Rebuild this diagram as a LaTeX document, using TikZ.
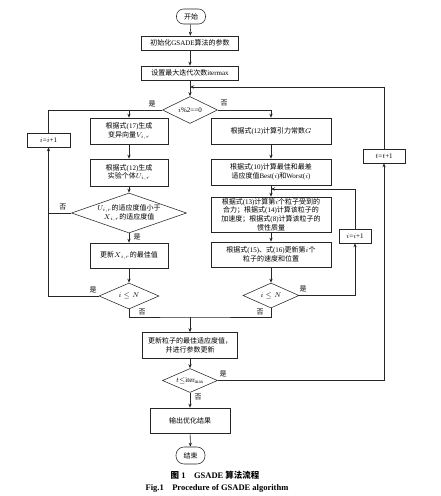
\documentclass[tikz,border=0pt]{standalone}
\usepackage{fontspec}
\setmainfont{Liberation Serif}
\newfontfamily\cjk{Noto Sans CJK SC}
\usetikzlibrary{shapes.geometric,arrows.meta}
\newcommand\en[1]{{\rmfamily #1}}
\tikzset{
 base/.style={draw=black!85, line width=0.55pt, inner sep=1pt, font=\cjk\fontsize{7}{8.6}\selectfont, align=center},
 box/.style={base, rectangle},
 pill/.style={base, rounded corners=7pt},
 dia/.style={draw=black!85, line width=0.55pt, diamond, inner sep=0pt},
 dtext/.style={font=\cjk\fontsize{7}{8.6}\selectfont, align=center, inner sep=0pt},
 arr/.style={line width=0.55pt, draw=black!85, -{Stealth[length=4pt,width=3.2pt]}},
 ln/.style={line width=0.55pt, draw=black!85},
 lab/.style={font=\cjk\fontsize{7}{8}\selectfont, inner sep=0pt},
}
\begin{document}
\begin{tikzpicture}[x=1pt,y=-1pt]
\useasboundingbox[fill=white] (0,0) rectangle (440,496);
% main column
\node[pill, minimum width=29pt, minimum height=15pt] (start) at (191,16.5) {开始};
\node[box, minimum width=97pt, minimum height=14pt] (init) at (190,43) {初始化\en{GSADE}算法的参数};
\node[box, minimum width=97pt, minimum height=14pt] (setm) at (190,73) {设置最大迭代次数\en{itermax}};
\node[dia, minimum width=55pt, minimum height=27pt] (d1) at (190,110) {};
\node[dtext] at (d1) {$i$\en{\%2==0}};
% left column
\node[box, minimum width=78pt, minimum height=26pt] (l1) at (129,131) {根据式\en{(17)}生成\\变异向量$V_{i,r}$};
\node[box, minimum width=78pt, minimum height=27pt] (l2) at (129,172.5) {根据式\en{(12)}生成\\实验个体$U_{i,r}$};
\node[dia, minimum width=115pt, minimum height=40pt] (d2) at (129,213) {};
\node[dtext] at (d2) {$U_{i,r}$的适应度值小于\\$X_{i,r}$的适应度值};
\node[box, minimum width=78pt, minimum height=25pt] (l3) at (129,255.5) {更新$X_{i,r}$的最佳值};
\node[dia, minimum width=60pt, minimum height=26pt] (d3) at (129,296) {};
\node[dtext] at (d3) {$i\leq N$};
\node[box, minimum width=43pt, minimum height=14pt] (inc1) at (48.5,140) {$i$\en{=}$i$\en{+1}};
% right column
\node[box, minimum width=120pt, minimum height=26pt] (r1) at (271,131) {根据式\en{(12)}计算引力常数$G$};
\node[box, minimum width=120pt, minimum height=26pt] (r2) at (271,172) {根据式\en{(10)}计算最佳和最差\\适应度值\en{Best(}$i$\en{)}和\en{Worst(}$i$\en{)}};
\node[box, minimum width=120pt, minimum height=35pt] (r3) at (271,214.5) {根据式\en{(13)}计算第$i$个粒子受到的\\合力；根据式\en{(14)}计算该粒子的\\加速度；根据式\en{(8)}计算该粒子的\\惯性质量};
\node[box, minimum width=120pt, minimum height=25pt] (r4) at (271,254.5) {根据式\en{(15)}、式\en{(16)}更新第$i$个\\粒子的速度和位置};
\node[dia, minimum width=56pt, minimum height=25pt] (d4) at (271,295.5) {};
\node[dtext] at (d4) {$i\leq N$};
\node[box, minimum width=32pt, minimum height=14pt] (inc2) at (355,236) {$i$\en{=}$i$\en{+1}};
\node[box, minimum width=42pt, minimum height=14pt] (tinc) at (384,156) {$t$\en{=}$t$\en{+1}};
% bottom
\node[box, minimum width=95pt, minimum height=26pt] (upd) at (190,345.5) {更新粒子的最佳适应度值，\\并进行参数更新};
\node[dia, minimum width=55pt, minimum height=24pt] (d5) at (190,380.5) {};
\node[dtext] at (d5) {$t{\leq}$\en{iter}$_{\max}$};
\node[box, minimum width=80pt, minimum height=25pt] (out) at (190,420.5) {输出优化结果};
\node[pill, minimum width=29pt, minimum height=17pt, rounded corners=8pt] (end) at (190.5,455.5) {结束};
% captions
\node[font=\cjk\bfseries\fontsize{8.5}{10}\selectfont, inner sep=0pt] (cap1) at (215,475) {图\en{\textbf{ 1}}\hspace{1em}\en{\textbf{GSADE}} 算法流程};
\node[font=\rmfamily\bfseries\fontsize{8.5}{10}\selectfont, inner sep=0pt] (cap2) at (217,488) {Fig.1\hspace{1em}Procedure of GSADE algorithm};
% coordinates
\coordinate (j1) at (190,87);
\coordinate (j2) at (271,189);
\coordinate (mC) at (190,317);
% connectors main
\draw[arr] (start) -- (init);
\draw[arr] (init) -- (setm);
\draw[arr] (setm) -- (d1.north);
\draw[arr] (tinc.north) |- (j1);
\draw[arr] (d1.west) -| (l1.north);
\draw[ln] (inc1.north) |- (d1.west);
\draw[arr] (d1.east) -| (r1.north);
% left
\draw[arr] (l1) -- (l2);
\draw[arr] (l2) -- (d2.north);
\draw[arr] (d2.south) -- (l3.north);
\draw[arr] (l3) -- (d3.north);
\draw[ln] (d2.west) -- (d2.west -| inc1.south);
\draw[arr] (d3.west) -| (inc1.south);
% right
\draw[arr] (r1) -- (r2);
\draw[arr] (r2) -- (r3);
\draw[arr] (r3) -- (r4);
\draw[arr] (r4) -- (d4.north);
\draw[arr] (d4.east) -| (inc2.south);
\draw[arr] (inc2.north) |- (j2);
% merge
\draw[ln] (d3.south) |- (mC) -| (d4.south);
\draw[arr] (mC) -- (upd.north);
\draw[arr] (upd) -- (d5.north);
\draw[arr] (d5.south) -- (out.north);
\draw[arr] (out) -- (end);
\draw[arr] (d5.east) -| (tinc.south);
% labels
\node[lab] at (152,104) {是};
\node[lab] at (224,103) {否};
\node[lab] at (63,207) {否};
\node[lab] at (137,237) {是};
\node[lab] at (93,290) {是};
\node[lab] at (142,312) {否};
\node[lab] at (303,289) {是};
\node[lab] at (260,312) {否};
\node[lab] at (223,374) {是};
\node[lab] at (198,397) {否};
\end{tikzpicture}
\end{document}
